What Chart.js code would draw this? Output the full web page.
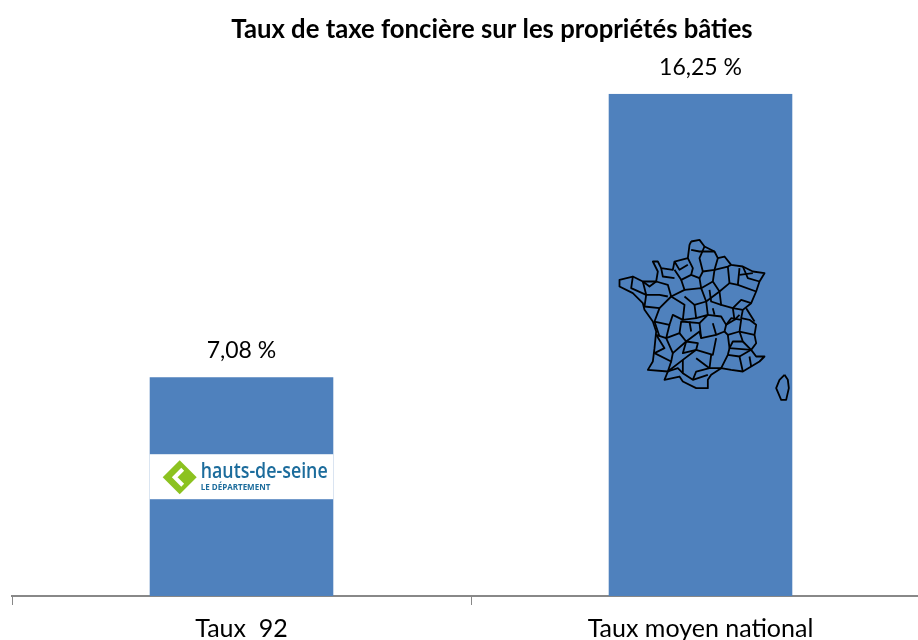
<!DOCTYPE html>
<html>
<head>
<meta charset="utf-8">
<title>Taux de taxe foncière</title>
<script src="https://cdn.jsdelivr.net/npm/chart.js@4/dist/chart.umd.min.js"></script>
<style>
  html, body { margin: 0; padding: 0; background: #fff; overflow: hidden; }
  canvas { display: block; }
</style>
</head>
<body>
<canvas id="taxChart" width="930" height="640"></canvas>
<script>
// ================= DATA =================
const categories = ["Taux  92", "Taux moyen national"];
const rates = [7.08, 16.25];
const chartTitle = "Taux de taxe foncière sur les propriétés bâties";

// ================= DECOR =================
// map drawn inside the national bar, in 3x pixels from its own corner
const mapOutline = [275,50,300,45,315,65,345,80,355,100,375,95,395,120,430,125,460,140,495,145,480,170,470,200,455,235,430,255,425,280,450,285,470,300,465,330,470,355,455,375,470,395,495,395,480,410,455,425,430,440,395,435,365,430,335,450,325,465,325,490,290,490,250,470,240,455,195,465,205,440,145,435,160,410,165,370,170,320,160,290,135,255,130,235,100,205,60,185,60,165,100,155,130,170,170,170,175,140,160,110,175,110,185,130,220,135,225,110,265,100,270,60,275,50];
const mapCorsica = [555,450,565,465,568,490,560,525,545,525,530,490,540,465,555,450];
const mapBorders = [
  [265,100,280,130,275,150,300,160,310,140,345,135,355,100],
  [310,140,300,100,315,65],
  [345,135,385,125,395,120],
  [385,125,390,175,415,180,470,200],
  [415,180,420,130],
  [390,175,360,200,340,170,345,135],
  [340,170,305,190,300,160],
  [275,150,245,165,225,135],
  [245,165,255,195,215,215,205,180,170,170],
  [130,170,140,210,180,210,205,215],
  [100,155,95,190,140,210],
  [140,210,135,245,180,250,215,215],
  [255,195,305,190,320,230,285,240,255,215],
  [320,230,360,200,365,240,400,250,430,255],
  [400,250,425,225,455,235],
  [400,250,405,285,380,300,365,275,325,270,320,230],
  [285,240,290,280,250,285,255,240,215,215],
  [180,250,165,290,210,300,220,270,250,285],
  [290,280,325,270,300,295,245,290,240,325,200,340,210,300],
  [300,295,305,340,350,330,375,320,380,300],
  [380,300,395,280,425,285,420,320,385,330,375,320],
  [420,320,465,330],
  [385,330,390,370,455,375],
  [240,325,260,350,300,320,305,340],
  [170,330,200,340,220,385,260,350,295,355,290,375,340,390,350,340],
  [220,385,215,410,165,385],
  [215,410,205,440,250,405,290,375],
  [250,405,250,445,280,465,325,450],
  [290,400,330,430,365,430,385,390,390,370],
  [385,390,420,395,430,440],
  [420,395,455,375],
  [275,75,300,80,345,80],
  [225,110,240,135,265,120],
  [185,130,190,155,225,160],
  [130,170,150,185,170,170],
  [430,125,445,160,480,170],
  [420,150,460,145],
  [330,195,335,230,365,240],
  [340,250,345,270],
  [440,250,465,290],
  [405,285,420,270],
  [165,290,180,335],
  [270,290,275,320],
  [340,295,350,330],
  [420,320,430,350,455,375],
  [390,370,400,350,430,350],
  [165,385,195,370,170,330],
  [330,430,335,390],
  [260,350,250,385,290,375],
  [205,440,235,430,250,445],
  [280,465,290,440,330,430],
  [455,425,450,395]
];

function drawPolyline(ctx, pts, ox, oy) {
  ctx.beginPath();
  for (let i = 0; i < pts.length; i += 2) {
    ctx.lineTo(ox + pts[i] / 3, oy + pts[i + 1] / 3);
  }
  ctx.stroke();
}

function drawLogo(ctx, bar) {
  const left = bar.x - bar.width / 2;
  const top = bar.y + 77;
  ctx.save();
  ctx.fillStyle = "#ffffff";
  ctx.fillRect(left, top, bar.width, 45);

  // green diamond with chevron
  const cx = left + 30, cy = top + 23;
  ctx.fillStyle = "#8cc220";
  ctx.beginPath();
  ctx.moveTo(cx, cy - 17);
  ctx.lineTo(cx + 17, cy);
  ctx.lineTo(cx, cy + 17);
  ctx.lineTo(cx - 17, cy);
  ctx.closePath();
  ctx.fill();
  ctx.strokeStyle = "#ffffff";
  ctx.lineWidth = 4;
  ctx.beginPath();
  ctx.moveTo(cx + 3, cy - 8);
  ctx.lineTo(cx - 5, cy);
  ctx.lineTo(cx + 3, cy + 8);
  ctx.stroke();

  ctx.fillStyle = "#1c6c9c";
  ctx.textAlign = "left";
  ctx.textBaseline = "alphabetic";
  ctx.font = "600 21px 'Open Sans'";
  ctx.fillText("hauts-de-seine", left + 51, top + 24, 127);
  ctx.font = "bold 8px 'Open Sans'";
  ctx.fillText("LE DÉPARTEMENT", left + 51, top + 36, 89);
  ctx.restore();
}

function drawMap(ctx, bar) {
  const ox = bar.x - 101, oy = bar.y + 131;
  ctx.save();
  ctx.strokeStyle = "#000000";
  ctx.lineWidth = 1.8;
  ctx.lineJoin = "round";
  drawPolyline(ctx, mapOutline, ox, oy);
  drawPolyline(ctx, mapCorsica, ox, oy);
  mapBorders.forEach(b => drawPolyline(ctx, b, ox, oy));
  ctx.restore();
}

// ================= PLUGIN =================
const barDecor = {
  id: "barDecor",
  afterLayout(chart) {
    // title sits right of the plot centre
    chart.titleBlock.left += 21;
    chart.titleBlock.right += 21;
  },
  afterDatasetsDraw(chart) {
    const ctx = chart.ctx;
    const bars = chart.getDatasetMeta(0).data;
    drawLogo(ctx, bars[0]);
    drawMap(ctx, bars[1]);

    ctx.save();
    ctx.fillStyle = "#000000";
    ctx.font = "23px Lato";
    ctx.textAlign = "center";
    ctx.textBaseline = "alphabetic";
    bars.forEach((bar, i) => {
      const label = rates[i].toFixed(2).replace(".", ",") + " %";
      ctx.fillText(label, bar.x, bar.y - 19);
    });
    ctx.restore();
  }
};

// ================= CHART =================
new Chart(document.getElementById("taxChart"), {
  type: "bar",
  data: {
    labels: categories,
    datasets: [{
      data: rates,
      backgroundColor: "#4f81bd",
      barPercentage: 0.4,
      categoryPercentage: 1
    }]
  },
  options: {
    responsive: false,
    animation: false,
    layout: { padding: { left: 12, right: 0, top: 0, bottom: -13 } },
    plugins: {
      legend: { display: false },
      tooltip: { enabled: false },
      title: {
        display: true,
        text: chartTitle,
        color: "#000000",
        font: { family: "Lato", size: 25.7, weight: "bold" },
        padding: { top: 14, bottom: 49 }
      }
    },
    scales: {
      y: { display: false, min: 0, max: 16.25 },
      x: {
        grid: {
          drawOnChartArea: false,
          color: "#888888",
          tickLength: 9
        },
        border: { color: "#888888", width: 2 },
        ticks: {
          color: "#000000",
          font: { family: "Lato", size: 25 },
          padding: 9,
          maxRotation: 0
        }
      }
    }
  },
  plugins: [barDecor]
});
</script>
</body>
</html>
